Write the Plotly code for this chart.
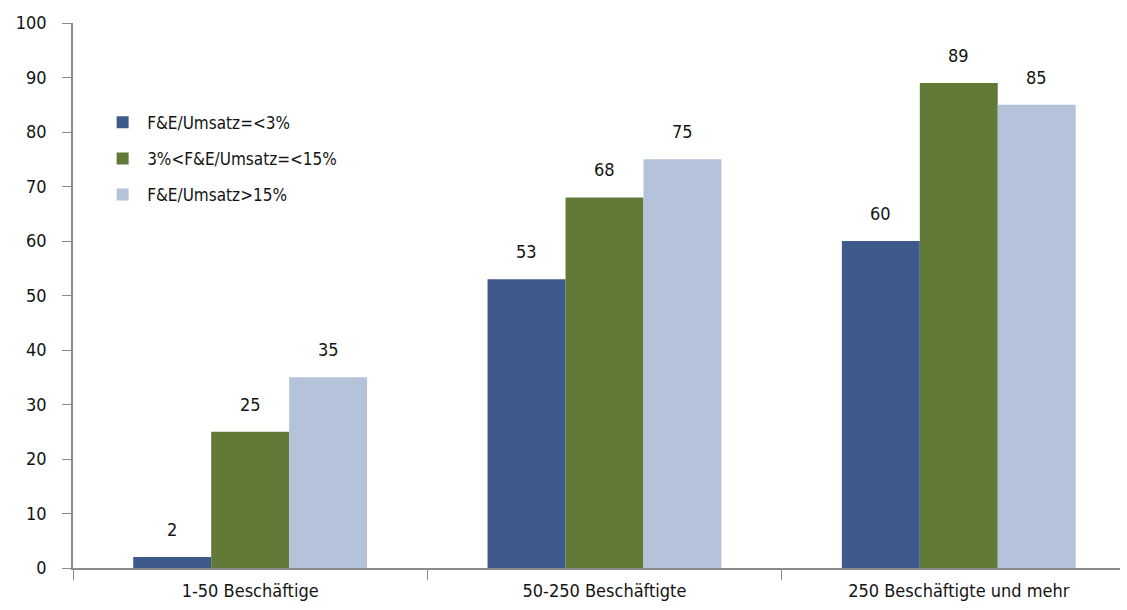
import plotly.graph_objects as go

categories = ["1-50 Beschäftige", "50-250 Beschäftigte", "250 Beschäftigte und mehr"]
series_names = ["F&E/Umsatz=<3%", "3%<F&E/Umsatz=<15%", "F&E/Umsatz>15%"]
low_share = [2, 53, 60]
mid_share = [25, 68, 89]
high_share = [35, 75, 85]
y_ticks = [0, 10, 20, 30, 40, 50, 60, 70, 80, 90, 100]

colors = ["#3e5a8b", "#617a37", "#b4c3da"]
FONT = "DejaVu Sans Condensed, DejaVu Sans, sans-serif"
TXT = "#141414"

fig = go.Figure()
series = [low_share, mid_share, high_share]
for i, (name, vals, col) in enumerate(zip(series_names, series, colors)):
    fig.add_trace(go.Bar(
        x=categories, y=vals, name=name, legendgroup=f"g{i}",
        marker=dict(color=col, line=dict(width=0)),
    ))

# value labels above each bar, placed at the bar's own offset within its group
n = len(series)
group_w = 1 - 0.34
bar_w = group_w / n
for si, vals in enumerate(series):
    offset = -group_w / 2 + bar_w * (si + 0.5)
    for ci, v in enumerate(vals):
        fig.add_annotation(
            x=ci + offset, y=v, xref="x", yref="y",
            text=str(v), showarrow=False, yanchor="bottom", yshift=15,
            font=dict(family=FONT, size=18, color=TXT),
        )

fig.update_layout(
    width=1127, height=610,
    margin=dict(l=73, r=7, t=23, b=42),
    paper_bgcolor="white", plot_bgcolor="white",
    barmode="group", bargap=0.34, bargroupgap=0,
    font=dict(family=FONT, size=18, color=TXT),
    showlegend=True,
    legend=dict(
        x=0.024, y=0.85, xanchor="left", yanchor="top",
        bgcolor="rgba(0,0,0,0)", traceorder="grouped", tracegroupgap=11,
        font=dict(family=FONT, size=17, color=TXT),
        itemwidth=39,
    ),
    xaxis=dict(
        type="category",
        range=[-0.5, 2.455], showgrid=False,
        showline=True, linecolor="#8a8a8a", linewidth=1.5,
        ticks="outside", ticklen=10, tickcolor="#8a8a8a",
        tickson="boundaries", ticklabelstandoff=6,
        tickfont=dict(family=FONT, size=18, color=TXT),
    ),
    yaxis=dict(
        range=[0, 100], tickvals=y_ticks, showgrid=False,
        showline=True, linecolor="#8a8a8a", linewidth=1.5,
        ticks="outside", ticklen=9, tickcolor="#8a8a8a",
        ticklabelstandoff=12,
        tickfont=dict(family=FONT, size=18, color=TXT),
        zeroline=False,
    ),
)

fig.write_html("out.html")
